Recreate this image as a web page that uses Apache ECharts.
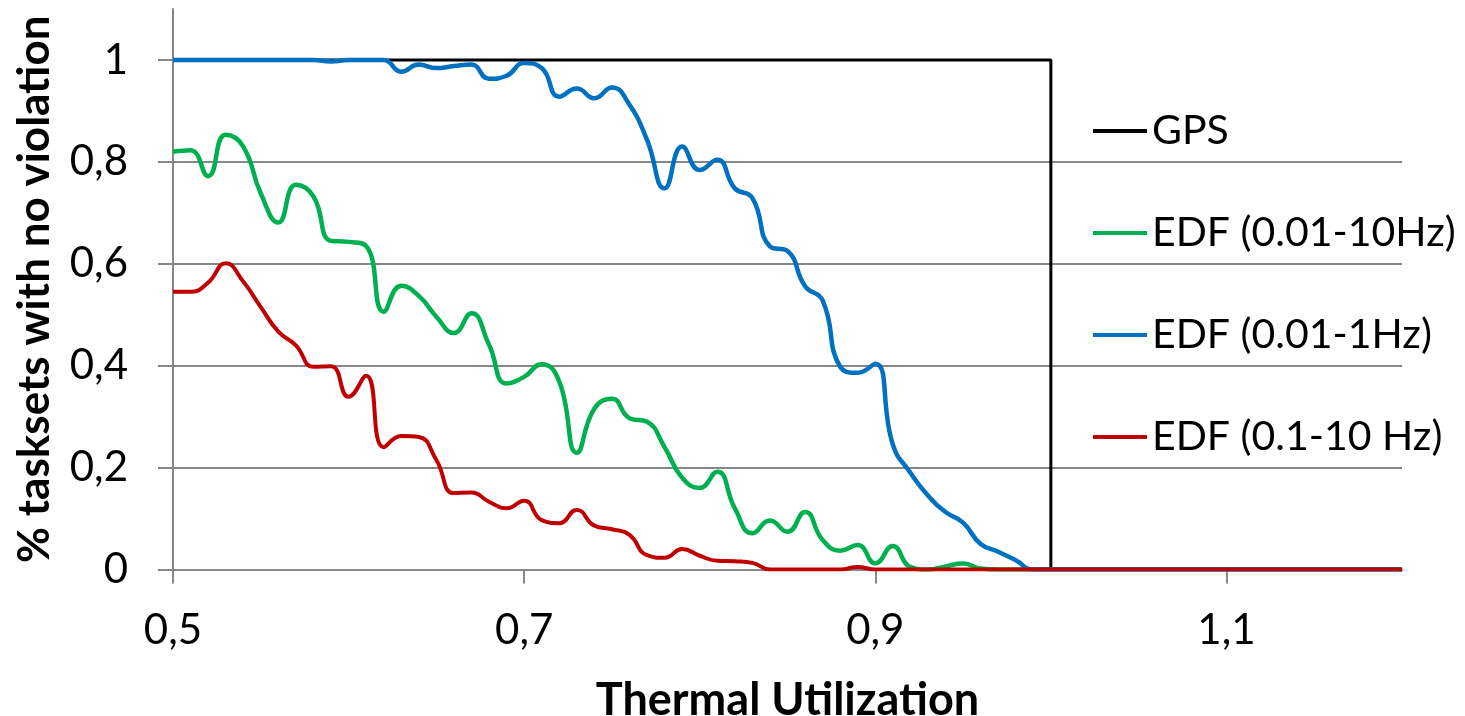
<!DOCTYPE html>
<html>
<head>
<meta charset="utf-8">
<script src="https://cdn.jsdelivr.net/npm/echarts@6/dist/echarts.min.js"></script>
<style>
html,body{margin:0;padding:0;background:#fff;}
#chart{width:1465px;height:716px;}
</style>
</head>
<body>
<div id="chart"></div>
<script>
// Thermal utilization (x), step 0.01 from 0.50 to 1.20
const utilization = [];
for (let i = 0; i <= 70; i++) utilization.push(Math.round((0.5 + i * 0.01) * 100) / 100);

const gpsX = [0.5, 1.0, 1.0, 1.2];
const gpsY = [1, 1, 0, 0];

const edf001to10 = [
  0.820, 0.823, 0.772, 0.853, 0.830, 0.738, 0.681, 0.755, 0.732, 0.645,
  0.643, 0.635, 0.506, 0.557, 0.537, 0.496, 0.464, 0.503, 0.441, 0.365,
  0.378, 0.403, 0.369, 0.229, 0.316, 0.335, 0.297, 0.290, 0.240, 0.180,
  0.160, 0.192, 0.120, 0.071, 0.096, 0.074, 0.113, 0.058, 0.037, 0.048,
  0.012, 0.046, 0.005, 0.000, 0.006, 0.012, 0.002, 0, 0, 0,
  0, 0, 0, 0, 0, 0, 0, 0, 0, 0,
  0, 0, 0, 0, 0, 0, 0, 0, 0, 0, 0
];

const edf001to1 = [
  1, 1, 1, 1, 1, 1, 1, 1, 1, 0.997,
  1, 1, 1, 0.977, 0.991, 0.984, 0.988, 0.991, 0.963, 0.969,
  0.994, 0.984, 0.928, 0.944, 0.925, 0.946, 0.912, 0.843, 0.748, 0.830,
  0.784, 0.804, 0.748, 0.729, 0.634, 0.625, 0.556, 0.528, 0.398, 0.386,
  0.404, 0.245, 0.190, 0.145, 0.113, 0.092, 0.050, 0.035, 0.018, 0,
  0, 0, 0, 0, 0, 0, 0, 0, 0, 0,
  0, 0, 0, 0, 0, 0, 0, 0, 0, 0, 0
];

const edf01to10 = [
  0.545, 0.545, 0.563, 0.601, 0.565, 0.515, 0.467, 0.440, 0.398, 0.399,
  0.339, 0.380, 0.240, 0.262, 0.260, 0.215, 0.150, 0.151, 0.133, 0.120,
  0.135, 0.097, 0.091, 0.117, 0.086, 0.079, 0.068, 0.028, 0.023, 0.040,
  0.027, 0.017, 0.016, 0.013, 0, 0, 0, 0, 0, 0.005,
  0, 0, 0, 0, 0, 0, 0, 0, 0, 0,
  0, 0, 0, 0, 0, 0, 0, 0, 0, 0,
  0, 0, 0, 0, 0, 0, 0, 0, 0, 0, 0
];

const xTicks = [0.5, 0.7, 0.9, 1.1];
const yTicks = [0, 0.2, 0.4, 0.6, 0.8, 1];

const seriesNames = ['GPS', 'EDF (0.01-10Hz)', 'EDF (0.01-1Hz)', 'EDF (0.1-10 Hz)'];
const colors = ['#000000', '#00B050', '#0070C0', '#C00000'];

const pairs = (xs, ys) => xs.map((x, i) => [x, ys[i]]);
const fmt = v => String(v).replace('.', ',');
const FONT = 'Lato, "Open Sans", sans-serif';

const chart = echarts.init(document.getElementById('chart'));
chart.setOption({
  animation: false,
  color: colors,
  grid: { left: 173, right: 63, top: 9, bottom: 146.5, containLabel: false, outerBoundsMode: 'none' },
  legend: {
    orient: 'vertical',
    left: 1088,
    top: 104,
    icon: 'rect',
    itemWidth: 54,
    itemHeight: 4,
    itemGap: 58,
    textStyle: { fontFamily: FONT, fontSize: 41, color: '#000', lineHeight: 44 },
    data: seriesNames
  },
  xAxis: {
    type: 'value',
    min: 0.5,
    max: 1.2,
    name: 'Thermal Utilization',
    nameLocation: 'middle',
    nameGap: 108,
    nameTextStyle: { fontFamily: FONT, fontSize: 45, fontWeight: 'bold', color: '#000' },
    axisLine: { show: true, lineStyle: { color: '#878787', width: 2 } },
    axisTick: { show: true, customValues: xTicks, length: 14, lineStyle: { color: '#878787', width: 2 } },
    axisLabel: { customValues: xTicks, formatter: fmt, margin: 40, fontFamily: FONT, fontSize: 42, color: '#000' },
    splitLine: { show: false }
  },
  yAxis: {
    type: 'value',
    min: 0,
    max: 1.1,
    interval: 0.2,
    name: '% tasksets with no violation',
    nameLocation: 'middle',
    nameGap: 116,
    nameTextStyle: { fontFamily: FONT, fontSize: 44, fontWeight: 'bold', color: '#000' },
    axisLine: { show: true, lineStyle: { color: '#878787', width: 2 } },
    axisTick: { show: true, customValues: yTicks, length: 15, lineStyle: { color: '#878787', width: 2 } },
    axisLabel: { customValues: yTicks, formatter: fmt, margin: 45, fontFamily: FONT, fontSize: 42, color: '#000' },
    splitLine: { show: true, showMaxLine: false, lineStyle: { color: '#878787', width: 2 } }
  },
  series: [
    { name: seriesNames[0], type: 'line', data: pairs(gpsX, gpsY), showSymbol: false, symbol: 'none', smooth: false,
      lineStyle: { width: 3, color: colors[0] } },
    { name: seriesNames[1], type: 'line', data: pairs(utilization, edf001to10), showSymbol: false, symbol: 'none', smooth: 0.5,
      lineStyle: { width: 4.5, color: colors[1] } },
    { name: seriesNames[2], type: 'line', data: pairs(utilization, edf001to1), showSymbol: false, symbol: 'none', smooth: 0.5,
      lineStyle: { width: 4.5, color: colors[2] } },
    { name: seriesNames[3], type: 'line', data: pairs(utilization, edf01to10), showSymbol: false, symbol: 'none', smooth: 0.5,
      lineStyle: { width: 4, color: colors[3] } }
  ]
});
</script>
</body>
</html>
